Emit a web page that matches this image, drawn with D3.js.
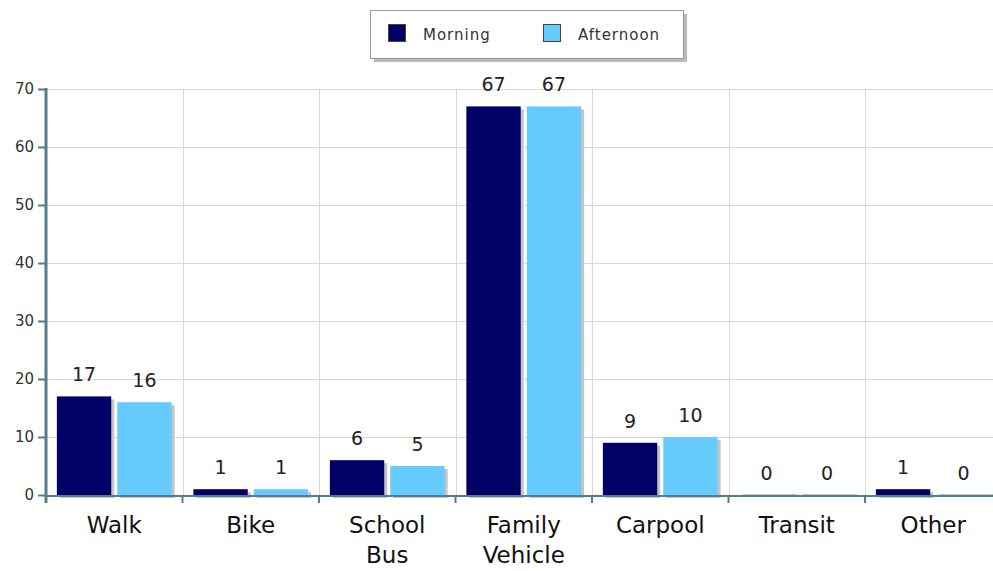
<!DOCTYPE html>
<html>
<head>
<meta charset="utf-8">
<script src="https://cdn.jsdelivr.net/npm/d3@7/dist/d3.min.js"></script>
<style>
  body { margin: 0; background: #fff; }
  svg { display: block; font-family: "DejaVu Sans", sans-serif; }
</style>
</head>
<body>
<div id="chart"></div>
<script>
// data
var categories = ["Walk", "Bike", "School Bus", "Family Vehicle", "Carpool", "Transit", "Other"];
var seriesNames = ["Morning", "Afternoon"];
var morning = [17, 1, 6, 67, 9, 0, 1];
var afternoon = [16, 1, 5, 67, 10, 0, 0];
var yTicks = [0, 10, 20, 30, 40, 50, 60, 70];

var W = 993, H = 571;
var colors = ["#000066", "#66ccff"];
var axisColor = "#557d8c", gridColor = "#d3dadd";

var svg = d3.select("#chart").append("svg").attr("width", W).attr("height", H);

var x0 = d3.scaleBand().domain(categories).range([46, 1001.5]).paddingInner(0).paddingOuter(0);
var x1 = d3.scaleBand().domain(seriesNames).range([0, x0.bandwidth()]).paddingInner(0.1).paddingOuter(0.18);
var y = d3.scaleLinear().domain([0, 70]).range([495, 89]);

var rows = categories.map(function (c, i) { return { cat: c, vals: [morning[i], afternoon[i]] }; });

// grid
var grid = svg.append("g");
grid.selectAll(".hg").data(yTicks).enter().append("line")
  .attr("x1", 46).attr("x2", W).attr("y1", function (d) { return y(d) + 0.5; }).attr("y2", function (d) { return y(d) + 0.5; })
  .attr("stroke", gridColor).attr("stroke-width", 1);
grid.selectAll(".vg").data(categories.slice(1)).enter().append("line")
  .attr("x1", function (d) { return Math.round(x0(d)) + 0.5; }).attr("x2", function (d) { return Math.round(x0(d)) + 0.5; })
  .attr("y1", y(70)).attr("y2", y(0))
  .attr("stroke", gridColor).attr("stroke-width", 1);

// bars
var groups = svg.selectAll(".cat").data(rows).enter().append("g")
  .attr("transform", function (d) { return "translate(" + x0(d.cat) + ",0)"; });

groups.each(function (d) {
  var g = d3.select(this);
  d.vals.forEach(function (v, j) {
    var bx = x1(seriesNames[j]), bw = x1.bandwidth();
    if (v > 0) {
      g.append("rect").attr("x", bx + 3).attr("y", y(v) + 3).attr("width", bw).attr("height", y(0) - y(v))
        .attr("fill", "#c4c4c4");
      g.append("rect").attr("x", bx).attr("y", y(v)).attr("width", bw).attr("height", y(0) - y(v))
        .attr("fill", colors[j]);
    } else {
      g.append("rect").attr("x", bx + 3).attr("y", y(0) - 1).attr("width", bw).attr("height", 3)
        .attr("fill", "#c4c4c4");
    }
    g.append("text").attr("x", bx + bw / 2).attr("y", y(v) - 15)
      .attr("text-anchor", "middle").attr("font-size", 19).attr("fill", "#222")
      .text(v);
  });
});

// y axis
var yAxis = svg.append("g").attr("transform", "translate(46,0)")
  .call(d3.axisLeft(y).tickValues(yTicks).tickSize(8).tickPadding(4));
yAxis.select(".domain").attr("stroke", axisColor).attr("stroke-width", 3).attr("d", "M0," + (y(70) - 1) + "V" + (y(0) + 8));
yAxis.selectAll(".tick line").attr("stroke", axisColor).attr("stroke-width", 2);
yAxis.selectAll(".tick text").attr("font-size", 15).attr("fill", "#333").attr("font-family", "DejaVu Sans");

// x axis
var xAxisLine = svg.append("g");
xAxisLine.append("line").attr("x1", 46).attr("x2", W).attr("y1", y(0) + 1).attr("y2", y(0) + 1)
  .attr("stroke", axisColor).attr("stroke-width", 2);
xAxisLine.selectAll(".xt").data(categories.slice(1)).enter().append("line")
  .attr("x1", function (d) { return x0(d); }).attr("x2", function (d) { return x0(d); })
  .attr("y1", y(0)).attr("y2", y(0) + 8)
  .attr("stroke", axisColor).attr("stroke-width", 2);

// category labels
var labels = svg.selectAll(".cl").data(categories).enter().append("text")
  .attr("text-anchor", "middle").attr("font-size", 23).attr("fill", "#111")
  .attr("transform", function (d) { return "translate(" + (x0(d) + x0.bandwidth() / 2) + ",533)"; });
labels.each(function (d) {
  var words = d.split(" ");
  var t = d3.select(this);
  words.forEach(function (w, i) {
    t.append("tspan").attr("x", 0).attr("dy", i === 0 ? 0 : 30).text(w);
  });
});

// legend
var leg = svg.append("g").attr("transform", "translate(370,10)");
leg.append("rect").attr("x", 4).attr("y", 4).attr("width", 313).attr("height", 48).attr("fill", "#bbb");
leg.append("rect").attr("x", 0.5).attr("y", 0.5).attr("width", 313).attr("height", 48)
  .attr("fill", "#fff").attr("stroke", "#999");
var legX = [18, 173], legTX = [53, 208];
seriesNames.forEach(function (s, i) {
  leg.append("rect").attr("x", legX[i] + 0.5).attr("y", 14.5).attr("width", 17).attr("height", 17)
    .attr("fill", colors[i]).attr("stroke", "#444");
  leg.append("text").attr("x", legTX[i]).attr("y", 30).attr("font-size", 15).attr("letter-spacing", 1)
    .attr("fill", "#333").text(s);
});
</script>
</body>
</html>
